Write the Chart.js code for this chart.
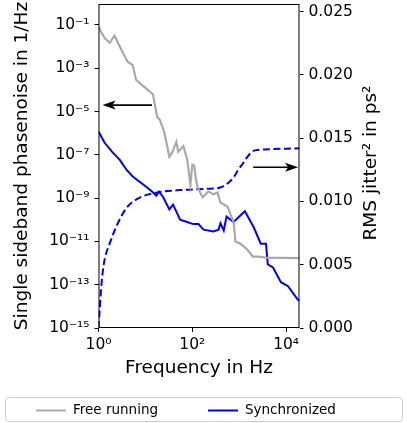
<!DOCTYPE html>
<html>
<head>
<meta charset="utf-8">
<script src="https://cdn.jsdelivr.net/npm/chart.js@4.4.0/dist/chart.umd.min.js"></script>
<style>
body { margin: 0; background: #fff; }
#wrap { width: 407px; height: 423px; }
</style>
</head>
<body>
<div id="wrap"><canvas id="ruidoChart" width="407" height="423"></canvas></div>
<script>
// Free running (gris)
var freqLibre = [1, 1.35, 1.74, 2.19, 3.09, 4.17, 5.37, 6.31, 8.32, 9.77, 11.2, 14.5, 17.8, 20.4, 25.1, 32.4, 37.2, 45.7, 50.1, 64.6, 77.6, 91.2, 100, 110, 120, 129, 166, 219, 282, 347, 398, 562, 661, 759, 832, 1070, 1510, 1950, 2510, 3720, 19300];
var ruidoLibre = [8.1e-2, 2.5e-2, 1.5e-2, 3.2e-2, 7e-3, 2e-3, 1.4e-3, 3e-4, 1.7e-4, 1.3e-4, 1e-4, 6.3e-5, 5.8e-6, 4e-6, 1.2e-6, 8.3e-8, 1.3e-7, 4e-7, 1.4e-7, 2.5e-7, 6.3e-8, 4.3e-9, 3.5e-8, 3.2e-8, 7.2e-9, 3.2e-9, 1.1e-9, 2e-9, 1.5e-9, 1.8e-9, 6.3e-10, 4.1e-10, 1.7e-10, 7.9e-11, 1e-11, 7.9e-12, 4e-12, 2e-12, 2e-12, 1.8e-12, 1.7e-12];

// Synchronized (azul)
var freqSinc = [1, 1.35, 2, 2.82, 3.98, 5.37, 10.7, 13.8, 17, 19.5, 24, 32.4, 38.9, 55, 77.6, 105, 135, 174, 282, 363, 398, 468, 537, 759, 1320, 2040, 2880, 3720, 4070, 5250, 7760, 11000, 17500, 19300];
var ruidoSinc = [1.2e-6, 3.6e-7, 1.3e-7, 6e-8, 2e-8, 1e-8, 3.2e-9, 2e-9, 1.3e-9, 2e-9, 1.1e-9, 3e-10, 5e-10, 1e-10, 7.9e-11, 6.3e-11, 6.3e-11, 3.5e-11, 2.9e-11, 3.5e-11, 6.8e-11, 3.2e-11, 1.4e-10, 7.9e-11, 2.5e-10, 4.5e-11, 7.9e-12, 7.9e-12, 8.7e-13, 6.3e-13, 1.3e-13, 8.5e-14, 2.1e-14, 1.8e-14];

// RMS jitter integrado (eje derecho)
var freqJitter = [1, 1.05, 1.12, 1.22, 1.35, 1.74, 2.45, 3.98, 7.59, 17.8, 55, 209, 394, 600, 759, 955, 1200, 1480, 1990, 3240, 19300];
var jitter = [0, 0.0012, 0.0028, 0.0043, 0.0054, 0.0067, 0.0081, 0.0095, 0.0103, 0.0107, 0.0109, 0.0110, 0.0111, 0.0115, 0.0119, 0.0125, 0.0130, 0.0135, 0.0140, 0.0141, 0.0142];

// Ticks
var xTicks = [1, 100, 10000];
var yTicks = [1e-15, 1e-13, 1e-11, 1e-9, 1e-7, 1e-5, 1e-3, 1e-1];
var y2Ticks = [0, 0.005, 0.010, 0.015, 0.020, 0.025];

// Flechas (en coordenadas de datos)
var flechas = [
    { eje: 'y', desde: 13.8, hasta: 1.22, valor: 2e-5 },
    { eje: 'y2', desde: 1990, hasta: 18000, valor: 0.0127 }
];

var sup = { '-': '\u207B', '0': '\u2070', '1': '\u00B9', '2': '\u00B2', '3': '\u00B3', '4': '\u2074', '5': '\u2075', '6': '\u2076', '7': '\u2077', '8': '\u2078', '9': '\u2079' };

function potencia(v) {
    var e = Math.round(Math.log10(v));
    return '10' + String(e).split('').map(function (c) { return sup[c]; }).join('');
}

function puntos(xs, ys) {
    return xs.map(function (x, i) { return { x: x, y: ys[i] }; });
}

var fuente = 'DejaVu Sans';

var extrasPlugin = {
    id: 'extras',
    afterDatasetsDraw: function (chart) {
        var ctx = chart.ctx;
        var a = chart.chartArea;
        ctx.save();

        // marco
        ctx.strokeStyle = '#000';
        ctx.lineWidth = 1;
        ctx.strokeRect(a.left + 0.5, a.top + 0.5, a.right - a.left - 1, a.bottom - a.top - 1);

        // flechas
        flechas.forEach(function (f) {
            var x0 = chart.scales.x.getPixelForValue(f.desde);
            var x1 = chart.scales.x.getPixelForValue(f.hasta);
            var y = chart.scales[f.eje].getPixelForValue(f.valor);
            var dir = x1 > x0 ? 1 : -1;
            ctx.strokeStyle = '#000';
            ctx.fillStyle = '#000';
            ctx.lineWidth = 1.7;
            ctx.beginPath();
            ctx.moveTo(x0, y);
            ctx.lineTo(x1 - dir * 8, y);
            ctx.stroke();
            ctx.beginPath();
            ctx.moveTo(x1, y);
            ctx.lineTo(x1 - dir * 13, y - 4.5);
            ctx.lineTo(x1 - dir * 10, y);
            ctx.lineTo(x1 - dir * 13, y + 4.5);
            ctx.closePath();
            ctx.fill();
        });

        // titulo eje derecho
        ctx.save();
        ctx.translate(a.right + 72, (a.top + a.bottom) / 2 - 3);
        ctx.rotate(-Math.PI / 2);
        ctx.fillStyle = '#000';
        ctx.font = '18.5px "' + fuente + '"';
        ctx.textAlign = 'center';
        ctx.textBaseline = 'middle';
        ctx.fillText('RMS jitter\u00B2 in ps\u00B2', 0, 0);
        ctx.restore();

        // leyenda
        var top = 397.5, alto = 24, izq = 5.5, ancho = 397;
        ctx.strokeStyle = '#cccccc';
        ctx.lineWidth = 1;
        ctx.beginPath();
        ctx.roundRect(izq, top, ancho, alto, 3);
        ctx.stroke();
        ctx.font = '13.5px "' + fuente + '"';
        ctx.textAlign = 'left';
        ctx.textBaseline = 'middle';
        var items = chart.data.datasets.filter(function (d) { return !d.borderDash; });
        items.forEach(function (d, i) {
            var x = izq + 30.5 + i * 172;
            var y = top + alto / 2 + 1;
            ctx.strokeStyle = d.borderColor;
            ctx.lineWidth = 2;
            ctx.beginPath();
            ctx.moveTo(x, y);
            ctx.lineTo(x + 30, y);
            ctx.stroke();
            ctx.fillStyle = '#000';
            ctx.fillText(d.label, x + 37, y);
        });

        ctx.restore();
    }
};

var ctx = document.getElementById('ruidoChart').getContext('2d');

var ruidoChart = new Chart(ctx, {
    type: 'line',
    data: {
        datasets: [{
            label: 'Free running',
            data: puntos(freqLibre, ruidoLibre),
            borderColor: '#a9a9a9',
            borderWidth: 2.2,
            pointRadius: 0,
            tension: 0,
            yAxisID: 'y'
        },
        {
            label: 'Synchronized',
            data: puntos(freqSinc, ruidoSinc),
            borderColor: '#0000ff',
            borderWidth: 2,
            pointRadius: 0,
            tension: 0,
            yAxisID: 'y'
        },
        {
            label: 'RMS jitter',
            data: puntos(freqJitter, jitter),
            borderColor: '#0000ff',
            borderWidth: 2,
            borderDash: [7, 3.5],
            pointRadius: 0,
            cubicInterpolationMode: 'monotone',
            yAxisID: 'y2'
        }]
    },
    options: {
        responsive: false,
        animation: false,
        layout: {
            padding: { top: 4, bottom: 33, left: 0, right: 0 }
        },
        plugins: {
            legend: { display: false },
            tooltip: { enabled: false }
        },
        scales: {
            x: {
                type: 'logarithmic',
                min: 1,
                max: 19300,
                afterBuildTicks: function (s) { s.ticks = xTicks.map(function (v) { return { value: v }; }); },
                afterFit: function (s) { s.height = 62; s.paddingLeft = 0; s.paddingRight = 0; },
                ticks: {
                    autoSkip: false,
                    maxRotation: 0,
                    padding: 4,
                    color: '#000',
                    font: { family: fuente, size: 15.5 },
                    callback: function (v) { return potencia(v); }
                },
                grid: { drawOnChartArea: false, drawTicks: true, tickLength: 4, color: '#000' },
                border: { display: false },
                title: {
                    display: true,
                    text: 'Frequency in Hz',
                    color: '#000',
                    font: { family: fuente, size: 18.5 },
                    padding: { top: 0, bottom: 11 }
                }
            },
            y: {
                type: 'logarithmic',
                position: 'left',
                min: 1e-15,
                max: 0.93,
                afterBuildTicks: function (s) { s.ticks = yTicks.map(function (v) { return { value: v }; }); },
                afterFit: function (s) { s.width = 98.5; s.paddingTop = 0; s.paddingBottom = 0; },
                ticks: {
                    autoSkip: false,
                    padding: 5,
                    color: '#000',
                    font: { family: fuente, size: 15.5 },
                    callback: function (v) { return potencia(v); }
                },
                grid: { drawOnChartArea: false, drawTicks: true, tickLength: 4, color: '#000' },
                border: { display: false },
                title: {
                    display: true,
                    text: 'Single sideband phasenoise in 1/Hz',
                    color: '#000',
                    font: { family: fuente, size: 18.5 },
                    padding: { top: 11, bottom: 0 }
                }
            },
            y2: {
                type: 'linear',
                position: 'right',
                min: 0,
                max: 0.0256,
                afterBuildTicks: function (s) { s.ticks = y2Ticks.map(function (v) { return { value: v }; }); },
                afterFit: function (s) { s.width = 107.5; s.paddingTop = 0; s.paddingBottom = 0; },
                ticks: {
                    autoSkip: false,
                    padding: 5,
                    color: '#000',
                    font: { family: fuente, size: 15.5 },
                    callback: function (v) { return v.toFixed(3); }
                },
                grid: { drawOnChartArea: false, drawTicks: true, tickLength: 4, color: '#000' },
                border: { display: false }
            }
        }
    },
    plugins: [extrasPlugin]
});
</script>
</body>
</html>
